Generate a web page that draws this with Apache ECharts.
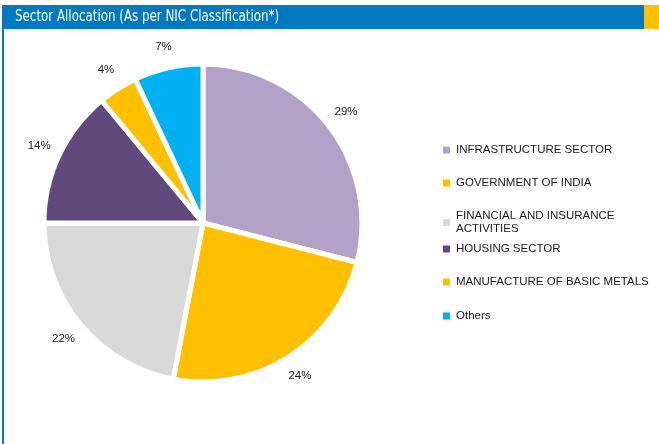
<!DOCTYPE html>
<html>
<head>
<meta charset="utf-8">
<script src="https://cdn.jsdelivr.net/npm/echarts@6/dist/echarts.min.js"></script>
<style>
  html, body { margin: 0; padding: 0; background: #fff; }
  #chart { width: 659px; height: 444px; }
</style>
</head>
<body>
<div id="chart"></div>
<script>
// Sector shares in percent, clockwise from 12 o'clock
const sectors = [
  'INFRASTRUCTURE SECTOR',
  'GOVERNMENT OF INDIA',
  'FINANCIAL AND INSURANCE ACTIVITIES',
  'HOUSING SECTOR',
  'MANUFACTURE OF BASIC METALS',
  'Others'
];
const shares = [29, 24, 22, 14, 4, 7];
const sectorColors = ['#B3A2C7', '#FFC000', '#D9D9D9', '#604A7B', '#FFC000', '#00B0F0'];
const legendLabels = [
  'INFRASTRUCTURE SECTOR',
  'GOVERNMENT OF INDIA',
  'FINANCIAL AND INSURANCE\nACTIVITIES',
  'HOUSING SECTOR',
  'MANUFACTURE OF BASIC METALS',
  'Others'
];
const titleText = 'Sector Allocation (As per NIC Classification*)';

const pieData = sectors.map((name, i) => ({
  name: name,
  value: shares[i],
  itemStyle: { color: sectorColors[i] }
}));

// legend rows: vertical centre of each entry
const legendRowCenters = [150, 183, 222.5, 249, 282, 316];

const legends = sectors.map((name, i) => {
  const lines = legendLabels[i].split('\n').length;
  return {
    data: [name],
    orient: 'vertical',
    left: 441,
    top: legendRowCenters[i] - lines * 6.5,
    padding: 0,
    itemWidth: 9,
    itemHeight: 9,
    itemGap: 0,
    selectedMode: false,
    icon: 'rect',
    formatter: () => legendLabels[i],
    textStyle: {
      fontFamily: '"Liberation Sans", Arial, sans-serif',
      fontSize: 11.5,
      color: '#1a1a1a',
      lineHeight: 13
    }
  };
});

const chart = echarts.init(document.getElementById('chart'), null, { renderer: 'canvas' });
chart.setOption({
  animation: false,
  backgroundColor: '#ffffff',
  graphic: [
    // header band
    { type: 'rect', left: 2, top: 5, shape: { width: 642, height: 24 }, style: { fill: '#0079C1' }, silent: true, z: 0 },
    { type: 'rect', left: 644, top: 5, shape: { width: 15, height: 24 }, style: { fill: '#FFC000' }, silent: true, z: 0 },
    // left frame line
    { type: 'rect', left: 2, top: 29, shape: { width: 2, height: 415 }, style: { fill: '#0079C1' }, silent: true, z: 0 },
    // header caption, narrowed horizontally
    {
      type: 'text',
      x: 15,
      y: 17,
      scaleX: 0.88,
      silent: true,
      z: 5,
      style: {
        text: titleText,
        fill: '#ffffff',
        font: '15px "DejaVu Sans Condensed", "DejaVu Sans", sans-serif',
        verticalAlign: 'middle',
        align: 'left'
      }
    }
  ],
  legend: legends,
  series: [
    {
      type: 'pie',
      center: [203, 223],
      radius: [0, 159],
      startAngle: 90,
      clockwise: true,
      silent: true,
      emphasis: { disabled: true },
      itemStyle: { borderColor: '#ffffff', borderWidth: 5 },
      label: { show: false },
      labelLine: { show: false },
      data: pieData
    },
    {
      // transparent ring that only carries the percentage labels
      type: 'pie',
      center: [203, 223],
      radius: [168, 188],
      startAngle: 90,
      clockwise: true,
      silent: true,
      emphasis: { disabled: true },
      itemStyle: { color: 'transparent', borderWidth: 0 },
      label: {
        show: true,
        position: 'inside',
        formatter: '{c}%',
        fontFamily: '"Liberation Sans", Arial, sans-serif',
        fontSize: 11.5,
        color: '#1a1a1a'
      },
      labelLine: { show: false },
      data: sectors.map((name, i) => ({ name: name, value: shares[i] }))
    }
  ]
});
</script>
</body>
</html>
